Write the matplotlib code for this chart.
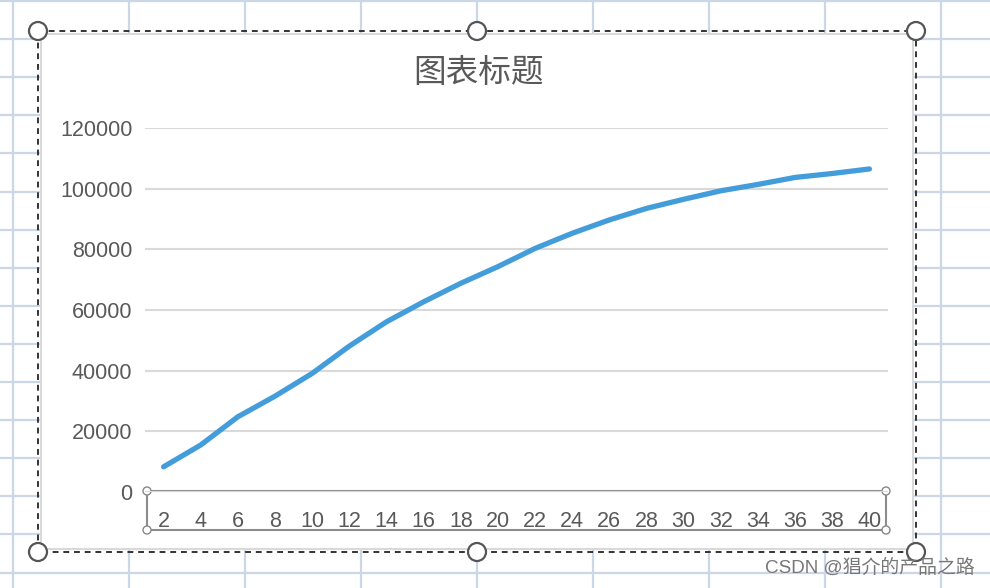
import matplotlib
matplotlib.use("Agg")
import matplotlib.pyplot as plt
from matplotlib.patches import Rectangle, Circle

plt.rcParams['font.family'] = ['Liberation Sans', 'Noto Sans CJK SC']

# data
x_labels = ["2", "4", "6", "8", "10", "12", "14", "16", "18", "20",
            "22", "24", "26", "28", "30", "32", "34", "36", "38", "40"]
values = [8300, 15500, 24800, 31600, 39100, 48100, 56100, 62700, 68800, 74300,
          80300, 85300, 89700, 93500, 96500, 99300, 101400, 103700, 105000, 106500]
y_ticks = [0, 20000, 40000, 60000, 80000, 100000, 120000]
title = "图表标题"
watermark = "CSDN @猖介的产品之路"

W, H = 990, 588
fig = plt.figure(figsize=(W / 100, H / 100), dpi=100)

# spreadsheet background (pixel coordinates)
bg = fig.add_axes([0, 0, 1, 1])
bg.set_xlim(0, W)
bg.set_ylim(H, 0)
bg.axis("off")
grid_col = "#cbd6e6"
for gx in [13, 129, 245, 361, 477, 593, 709, 825, 941]:
    bg.axvline(gx, color=grid_col, lw=1.6, zorder=0)
for i in range(16):
    bg.axhline(1 + i * 38.1, color=grid_col, lw=1.6, zorder=0)

# chart area
bg.add_patch(Rectangle((41, 34), 872, 515, facecolor="white", edgecolor="#d9d9d9", lw=1.5, zorder=1))
bg.add_patch(Rectangle((38, 31), 878, 521, fill=False, edgecolor="#333333", lw=1.4,
                       linestyle=(0, (3, 2.5)), zorder=2))
for hx, hy in [(38, 31), (477, 31), (916, 31), (38, 552), (477, 552), (916, 552)]:
    bg.add_patch(Circle((hx, hy), 9, facecolor="white", edgecolor="#555555", lw=1.6, zorder=3))

bg.text(478, 73, title, ha="center", va="center", fontsize=23.5, color="#595959",
        family=["Noto Sans CJK SC"], fontweight="light")
bg.text(975, 568, watermark, ha="right", va="center", fontsize=13.6, color="#777777",
        family=["Liberation Sans", "Noto Sans CJK SC"], zorder=5)

# plot area
ax = fig.add_axes([145 / W, (H - 492) / H, (888 - 145) / W, (492 - 128) / H])
ax.patch.set_alpha(0)
x = list(range(len(values)))
ax.plot(x, values, color="#449ddb", lw=3.8, solid_capstyle="round", zorder=3)
ax.set_xlim(-0.5, len(values) - 0.5)
ax.set_ylim(0, 120000)
ax.set_yticks(y_ticks)
ax.set_yticklabels([str(v) for v in y_ticks])
ax.set_xticks(x)
ax.set_xticklabels(x_labels)
ax.grid(axis="y", color="#d9d9d9", lw=1.5)
ax.set_axisbelow(True)
for s in ax.spines.values():
    s.set_visible(False)
ax.tick_params(axis="both", length=0, labelsize=15.5, labelcolor="#595959")
ax.tick_params(axis="y", pad=9)
ax.tick_params(axis="x", pad=14)

# selected x axis box
bg.add_patch(Rectangle((147, 491), 739, 39, fill=False, edgecolor="#8c8c8c", lw=1.5, zorder=4))
for hx, hy in [(147, 491), (886, 491), (147, 530), (886, 530)]:
    bg.add_patch(Circle((hx, hy), 4, facecolor="white", edgecolor="#888888", lw=1, zorder=5))

fig.savefig("out.png", dpi=100)
